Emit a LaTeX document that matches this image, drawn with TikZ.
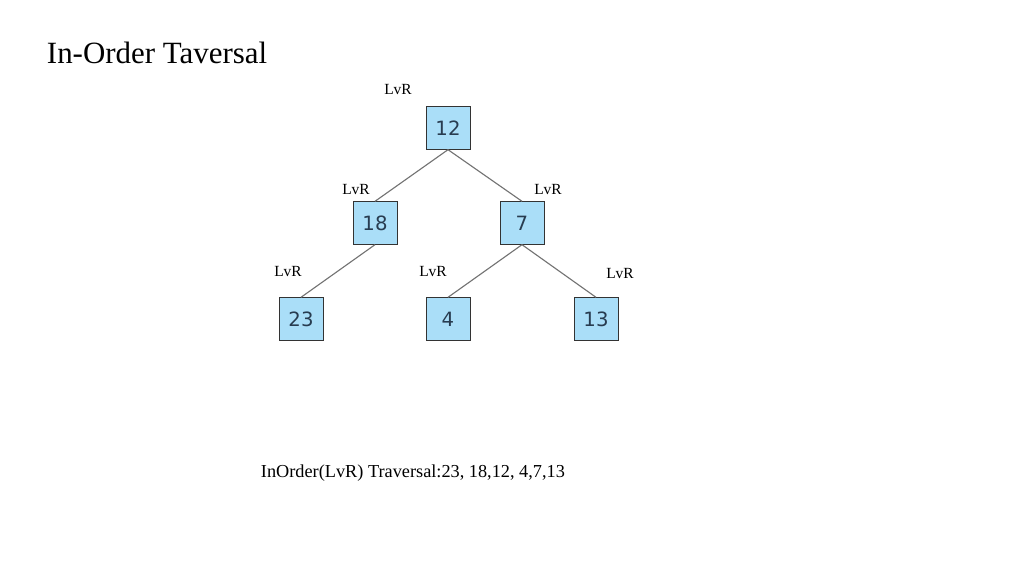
\documentclass[tikz,border=0pt]{standalone}
\usepackage{fontspec}
\setmainfont{Liberation Serif}
\newfontfamily\boxfont{DejaVu Sans}
\definecolor{boxblue}{RGB}{170,222,248}
\definecolor{boxtext}{RGB}{40,60,80}
\tikzset{
  treebox/.style={draw=black!80,fill=boxblue,minimum width=1.1cm,minimum height=1.07cm,
    font=\boxfont\fontsize{14}{16}\selectfont,text=boxtext,inner sep=0pt},
  tag/.style={font=\fontsize{11}{13}\selectfont},
  branch/.style={draw=black!55,line width=0.8pt}
}
\begin{document}
\begin{tikzpicture}[x=0.025cm,y=-0.025cm]
  \useasboundingbox (0,0) rectangle (1024,576);
  % title
  \node[anchor=west,font=\fontsize{22}{26}\selectfont] (title) at (42,53) {In-Order Taversal};

  % tree
  \node[treebox] (n12) at (448,128) {12};
  \node[treebox] (n18) at (375,223) {18};
  \node[treebox] (n7)  at (522,223) {7};
  \node[treebox] (n23) at (301,319) {23};
  \node[treebox] (n4)  at (448,319) {4};
  \node[treebox] (n13) at (596,319) {13};

  \draw[branch] (n12.south) -- (n18.north);
  \draw[branch] (n12.south) -- (n7.north);
  \draw[branch] (n18.south) -- (n23.north);
  \draw[branch] (n7.south) -- (n4.north);
  \draw[branch] (n7.south) -- (n13.north);

  % LvR tags
  \node[tag] (t12) at (398,90)  {LvR};
  \node[tag] (t18) at (356,190) {LvR};
  \node[tag] (t7)  at (548,190) {LvR};
  \node[tag] (t23) at (288,272) {LvR};
  \node[tag] (t4)  at (433,272) {LvR};
  \node[tag] (t13) at (620,274) {LvR};

  % result
  \node[anchor=west,font=\fontsize{13}{15}\selectfont] (result) at (256,473)
    {InOrder(LvR) Traversal:23, 18,12, 4,7,13};
\end{tikzpicture}
\end{document}
